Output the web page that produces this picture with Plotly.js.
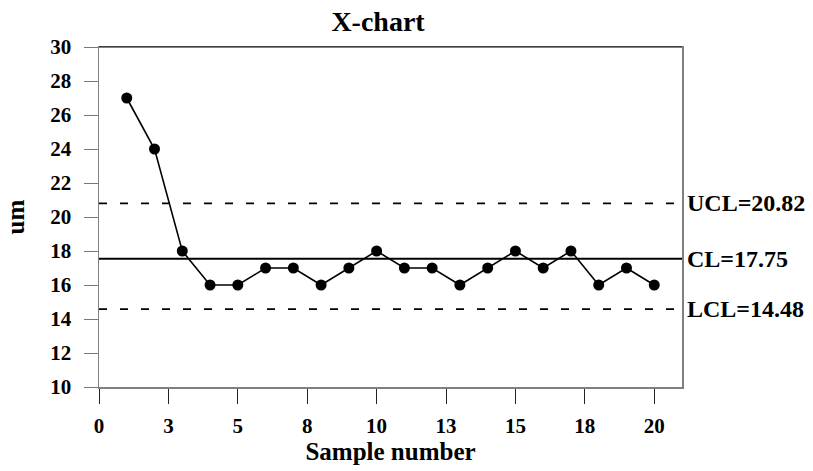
<!DOCTYPE html>
<html>
<head>
<meta charset="utf-8">
<script src="https://cdn.plot.ly/plotly-3.0.1.min.js"></script>
<style>html,body{margin:0;padding:0;background:#fff;}#chart{width:813px;height:471px;}</style>
</head>
<body>
<div id="chart"></div>
<script>
// Data
const sampleNumber = [1,2,3,4,5,6,7,8,9,10,11,12,13,14,15,16,17,18,19,20];
const measurement  = [27,24,18,16,16,17,17,16,17,18,17,17,16,17,18,17,18,16,17,16];
// Control limits as drawn, and their labels
const limitNames   = ['UCL', 'CL', 'LCL'];
const limitDrawn   = [20.8, 17.55, 14.58];
const limitLabels  = ['UCL=20.82', 'CL=17.75', 'LCL=14.48'];
const limitDash    = ['8px,13px', 'solid', '8px,13px'];
// Axis ticks
const xTickVals = [0, 2.5, 5, 7.5, 10, 12.5, 15, 17.5, 20];
const xTickText = ['0','3','5','8','10','13','15','18','20'];
const xRange = [0, 21];
const yRange = [10, 30];

const FONT = 'Liberation Serif, Times New Roman, serif';

const traces = [{
  x: sampleNumber, y: measurement, type: 'scatter', mode: 'lines+markers',
  line: {color: '#000', width: 1.6},
  marker: {color: '#000', size: 11},
  hoverinfo: 'x+y', showlegend: false
}];
limitNames.forEach((n, i) => {
  traces.push({
    x: xRange, y: [limitDrawn[i], limitDrawn[i]], type: 'scatter', mode: 'lines',
    line: {color: '#000', width: i === 1 ? 2 : 1.8, dash: limitDash[i]},
    name: n, showlegend: false, hoverinfo: 'name+y'
  });
});

const annotations = limitNames.map((n, i) => ({
  xref: 'paper', yref: 'y', x: 1, y: limitDrawn[i],
  xanchor: 'left', yanchor: 'middle', xshift: 3, showarrow: false,
  text: '<b>' + limitLabels[i] + '</b>',
  font: {family: FONT, size: 24, color: '#000'}
}));

const layout = {
  width: 813, height: 471,
  margin: {l: 99, r: 131, t: 47, b: 84},
  paper_bgcolor: '#fff', plot_bgcolor: '#fff',
  font: {family: FONT, color: '#000'},
  title: {text: '<b>X-chart</b>', font: {family: FONT, size: 28, color: '#000'},
          xref: 'container', x: 0.465, xanchor: 'center', yref: 'container', y: 0.955, yanchor: 'middle'},
  xaxis: {
    range: xRange, tickmode: 'array', tickvals: xTickVals, ticktext: xTickText,
    showgrid: false, zeroline: false, showline: true, linecolor: '#808080', linewidth: 1.5,
    mirror: true, ticks: 'outside', ticklen: 15, tickcolor: '#222', tickwidth: 1,
    ticklabelstandoff: 4,
    tickfont: {family: FONT, size: 21, color: '#000', weight: 'bold'},
    title: {text: '<b>Sample number</b>', font: {family: FONT, size: 25, color: '#000'}, standoff: 4}
  },
  yaxis: {
    range: yRange, dtick: 2, tick0: 10,
    showgrid: false, zeroline: false, showline: true, linecolor: '#808080', linewidth: 1.5,
    mirror: true, ticks: 'outside', ticklen: 14, tickcolor: '#777', tickwidth: 1,
    ticklabelstandoff: 8,
    tickfont: {family: FONT, size: 21, color: '#000', weight: 'bold'},
    title: {text: '<b>um</b>', font: {family: FONT, size: 25, color: '#000'}, standoff: 18}
  },
  shapes: [{type: 'line', xref: 'paper', yref: 'paper', x0: 0, x1: 1, y0: 1, y1: 1,
            line: {color: '#000', width: 1}}],
  annotations: annotations
};

Plotly.newPlot('chart', traces, layout, {displayModeBar: false, staticPlot: true});
</script>
</body>
</html>
